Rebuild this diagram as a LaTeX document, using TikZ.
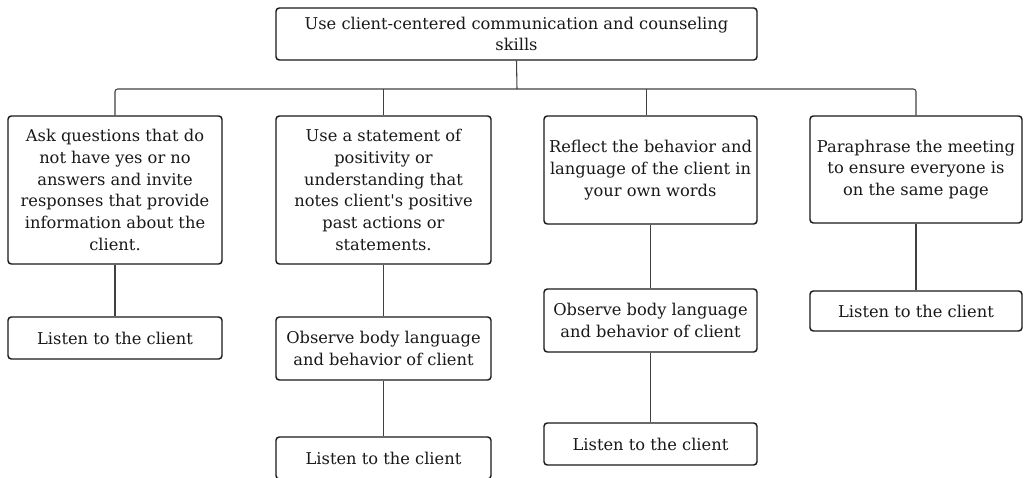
\documentclass[tikz,border=0pt]{standalone}
\usepackage{fontspec}
\setmainfont{DejaVu Serif}[Ligatures=TeXOff]
\begin{document}
\begin{tikzpicture}[x=0.75pt,y=-0.75pt,
  box/.style={draw=black!90,line width=1.1pt,rounded corners=2.5pt,fill=white,align=center,inner sep=0pt,
    font=\fontsize{12.2}{16.3}\selectfont,text=black!90},
  conn/.style={draw=black!75,line width=0.8pt}]
\useasboundingbox (0,0) rectangle (1026,478);
\node[box,minimum width=360.75pt,minimum height=39pt] (top) at (516.5,34) {Use client-centered communication and counseling\\skills};
\node[box,minimum width=160.5pt,minimum height=111pt] (A) at (115,190) {Ask questions that do\\not have yes or no\\answers and invite\\responses that provide\\information about the\\client.};
\node[box,minimum width=161.25pt,minimum height=111pt] (B) at (383.5,190) {Use a statement of\\positivity or\\understanding that\\notes client's positive\\past actions or\\statements.};
\node[box,minimum width=159.75pt,minimum height=81pt] (C) at (650.5,170) {Reflect the behavior and\\language of the client in\\your own words};
\node[box,minimum width=159pt,minimum height=80.25pt] (D) at (916,169.5) {Paraphrase the meeting\\to ensure everyone is\\on the same page};
\node[box,minimum width=160.5pt,minimum height=31.5pt] (A2) at (115,338) {Listen to the client};
\node[box,minimum width=161.25pt,minimum height=47.25pt] (B2) at (383.5,348.5) {Observe body language\\and behavior of client};
\node[box,minimum width=161.25pt,minimum height=31.5pt] (B3) at (383.5,458) {Listen to the client};
\node[box,minimum width=159.75pt,minimum height=47.25pt] (C2) at (650.5,320.5) {Observe body language\\and behavior of client};
\node[box,minimum width=159.75pt,minimum height=31.5pt] (C3) at (650.5,444) {Listen to the client};
\node[box,minimum width=159pt,minimum height=30pt] (D2) at (916,311) {Listen to the client};
\coordinate (bus) at (517,89);
\draw[conn] (top.south) -- (bus);
\draw[conn,rounded corners=2pt] (A.north) |- (bus) -| (D.north);
\draw[conn] (B.north) -- (B.north |- bus);
\draw[conn] ([xshift=-3pt]C.north) -- ([xshift=-3pt]C.north |- bus);
\draw[conn] (A.south) -- (A2.north);
\draw[conn] (B.south) -- (B2.north);
\draw[conn] (B2.south) -- (B3.north);
\draw[conn] (C.south) -- (C2.north);
\draw[conn] (C2.south) -- (C3.north);
\draw[conn] (D.south) -- (D2.north);
\end{tikzpicture}
\end{document}
